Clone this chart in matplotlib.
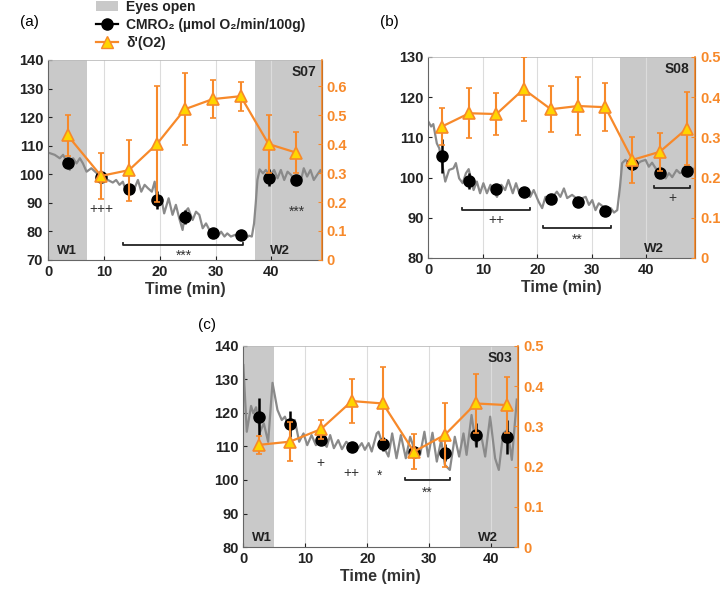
import numpy as np
import matplotlib
matplotlib.use('Agg')
import matplotlib.pyplot as plt
from matplotlib.patches import Patch
from matplotlib.lines import Line2D

plt.rcParams['font.family'] = ['Liberation Sans', 'DejaVu Sans']

ORANGE = '#f7892a'
YELLOW = '#ffd500'
GRAY = '#8a8a8a'
SHADE = '#c9c9c9'

# ---------------- panel (a) : S07 ----------------
a_time = [3.5, 9.5, 14.5, 19.5, 24.5, 29.5, 34.5, 39.5, 44.5]
a_cmro2 = [104.0, 99.2, 95.0, 91.0, 85.0, 79.5, 78.8, 98.8, 98.0]
a_cmro2_err = [1.5, 1.5, 1.5, 3.0, 2.5, 1.0, 1.0, 3.0, 1.5]
a_delta = [0.43, 0.29, 0.31, 0.40, 0.52, 0.555, 0.565, 0.40, 0.37]
a_delta_err = [0.07, 0.08, 0.105, 0.20, 0.125, 0.065, 0.05, 0.10, 0.07]
a_trace_t = [0.0, 1.2, 2.1, 2.7, 3.3, 3.9, 4.5, 5.1, 5.7, 6.25, 6.9, 7.75, 8.6, 9.5,
             10.7, 11.6, 12.2, 12.8, 13.4, 14.0, 14.7, 15.5, 16.1, 16.7, 17.3, 17.9,
             18.6, 19.1, 19.6, 20.25, 20.8, 21.6, 22.3, 22.9, 23.5, 24.1, 24.6, 25.1,
             25.9, 26.5, 27.1, 27.7, 28.3, 28.9, 29.6, 30.4, 31.0, 31.6, 32.1, 32.75,
             33.5, 34.3, 35.4, 36.0, 36.5, 36.9, 37.2, 37.5, 37.9, 38.5, 39.0, 39.7,
             40.5, 41.1, 41.7, 42.3, 42.9, 43.5, 44.4, 45.25, 45.8, 46.4, 47.0, 47.6,
             48.2, 48.8, 49.0]
a_trace_v = [107.6, 106.8, 105.6, 106.8, 104.5, 101.5, 105.6, 103.8, 105.6, 103.8, 100.9,
             102.1, 100.6, 99.5, 98.0, 97.1, 98.0, 96.3, 97.4, 93.9, 96.0, 95.1, 98.0,
             93.9, 96.3, 95.1, 93.9, 97.4, 89.8, 92.2, 86.3, 91.6, 85.8, 89.3, 84.6,
             80.5, 87.0, 88.1, 84.0, 86.9, 85.8, 81.1, 82.8, 80.5, 79.5, 78.2, 79.9,
             78.2, 79.3, 78.2, 78.8, 78.4, 77.6, 78.5, 78.2, 82.8, 89.8, 98.0, 101.7,
             100.3, 101.5, 99.5, 101.5, 98.6, 101.5, 98.0, 100.9, 99.8, 97.5, 97.4,
             102.1, 99.2, 101.5, 98.0, 99.8, 101.5, 100.5]

# ---------------- panel (b) : S08 ----------------
b_time = [2.5, 7.5, 12.5, 17.5, 22.5, 27.5, 32.5, 37.5, 42.5, 47.5]
b_cmro2 = [105.4, 99.2, 97.1, 96.3, 94.7, 94.0, 91.7, 103.3, 101.1, 101.6]
b_cmro2_err = [4.2, 2.0, 1.0, 0.8, 1.0, 0.8, 0.6, 1.5, 1.0, 0.8]
b_delta = [0.327, 0.36, 0.358, 0.42, 0.37, 0.378, 0.375, 0.244, 0.264, 0.322]
b_delta_err = [0.045, 0.062, 0.053, 0.08, 0.057, 0.072, 0.06, 0.057, 0.047, 0.09]
b_trace_t = [0.0, 0.5, 0.9, 1.55, 2.0, 3.1, 3.8, 4.6, 5.05, 5.65, 6.3, 6.9, 7.4, 8.3,
             8.9, 9.5, 10.1, 10.75, 11.4, 12.6, 13.4, 14.1, 14.7, 15.5, 16.1, 16.7,
             17.4, 18.1, 18.7, 19.35, 20.25, 20.9, 21.5, 22.5, 23.6, 24.25, 24.9, 25.5,
             26.4, 27.5, 28.9, 29.5, 30.1, 30.7, 31.3, 32.4, 33.5, 34.1, 34.7, 35.2,
             35.6, 36.2, 37.1, 38.0, 39.0, 39.9, 40.5, 41.1, 41.75, 42.6, 43.6, 44.2,
             44.8, 45.6, 46.2, 47.3, 48.5, 49.1]
b_trace_v = [113.9, 112.7, 113.3, 108.5, 107.3, 99.0, 101.9, 102.3, 103.6, 99.8, 98.6,
             101.1, 102.1, 96.9, 99.0, 96.1, 98.6, 96.1, 98.2, 95.2, 98.2, 96.9, 99.4,
             96.1, 98.6, 96.1, 97.0, 96.9, 95.2, 96.9, 94.0, 92.4, 95.2, 94.5, 96.5,
             95.2, 97.3, 94.9, 95.7, 94.5, 95.2, 93.2, 94.4, 91.9, 93.6, 92.5, 92.4,
             91.3, 91.9, 97.7, 103.6, 104.4, 103.4, 103.0, 104.0, 104.4, 102.7, 103.7,
             102.3, 101.5, 99.8, 101.1, 100.1, 101.9, 101.1, 101.5, 102.1, 102.3]

# ---------------- panel (c) : S03 ----------------
c_time = [2.5, 7.5, 12.5, 17.5, 22.5, 27.5, 32.5, 37.5, 42.5]
c_cmro2 = [118.9, 116.7, 111.9, 109.9, 110.7, 108.3, 108.2, 113.4, 112.9]
c_cmro2_err = [5.5, 4.0, 1.0, 0.8, 2.0, 1.0, 2.5, 3.5, 5.0]
c_delta = [0.254, 0.262, 0.293, 0.363, 0.357, 0.237, 0.279, 0.357, 0.353]
c_delta_err = [0.023, 0.048, 0.024, 0.055, 0.09, 0.043, 0.08, 0.074, 0.07]
c_trace_t = [0.0, 0.55, 1.24, 1.6, 2.05, 2.7, 3.3, 4.0, 4.7, 5.5, 6.2, 6.7, 7.5, 8.3,
             9.0, 9.7, 10.3, 11.0, 11.7, 12.4, 13.45, 14.0, 14.6, 15.3, 15.9, 16.6,
             17.4, 18.5, 19.1, 19.6, 20.2, 20.7, 21.5, 21.8, 22.5, 23.4, 24.0, 24.7,
             25.4, 26.2, 26.9, 27.7, 28.5, 29.2, 29.8, 30.5, 31.2, 31.9, 32.5, 33.3,
             34.1, 34.8, 35.5, 36.0, 36.8, 37.5, 38.3, 39.0, 39.8, 40.6, 41.2, 41.9,
             42.6, 43.3, 44.1]
c_trace_v = [134.3, 114.4, 122.1, 119.9, 121.7, 114.4, 116.9, 111.4, 129.0, 120.9, 117.9,
             118.9, 114.9, 117.9, 111.4, 113.9, 110.4, 113.4, 110.4, 112.0, 109.9, 113.4,
             109.5, 111.9, 109.2, 111.4, 110.0, 109.5, 111.0, 109.0, 111.0, 108.5, 113.9,
             114.4, 110.5, 107.0, 113.9, 106.5, 113.4, 106.5, 112.9, 108.5, 107.5, 114.4,
             107.0, 114.1, 105.5, 111.9, 104.5, 103.0, 112.9, 107.0, 113.9, 107.5, 119.4,
             110.4, 113.9, 107.0, 118.9, 106.5, 103.0, 113.9, 115.0, 106.0, 124.0]

# significance brackets: (start, end, level, label, label level)
a_brackets = [(13.5, 35.0, 75.2, '***', 71.6)]
b_brackets = [(6.2, 18.6, 91.9, '++', 89.5), (21.0, 33.6, 87.4, '**', 84.6),
              (41.5, 48.0, 97.3, '+', 94.8)]
c_brackets = [(26.0, 33.3, 100.0, '**', 96.3)]
# loose marks: (x, y, label)
a_marks = [(9.5, 88.0, '+++'), (44.5, 86.8, '***')]
b_marks = []
c_marks = [(12.5, 105.0, '+'), (17.5, 102.0, '++'), (22.0, 101.3, '*')]


def draw_panel(pos, t, cm, cm_err, dl, dl_err, tr_t, tr_v, xmax, ylim, yticks, y2lim, y2ticks,
               eyes, windows, subject, brackets, marks):
    ax = fig.add_axes(pos)
    for s, e in eyes:
        ax.axvspan(s, e, color=SHADE, lw=0, zorder=0)
    for g in [10, 20, 30, 40]:
        ax.axvline(g, color='#dcdcdc', lw=0.8, zorder=0.5)
    ax.plot(tr_t, tr_v, color=GRAY, lw=1.6, zorder=2)
    ax.errorbar(t, cm, yerr=cm_err, fmt='o', color='black', ms=8, elinewidth=1.8,
                capsize=0, zorder=3)
    ax.set_xlim(0, xmax)
    ax.set_ylim(*ylim)
    ax.set_yticks(yticks)
    ax.set_xticks([0, 10, 20, 30, 40])
    ax.tick_params(direction='in', length=3, labelsize=10.5, colors='#222222')
    for lab in ax.get_xticklabels() + ax.get_yticklabels():
        lab.set_fontweight('bold')
    ax.set_xlabel('Time (min)', fontsize=11.5, fontweight='bold', labelpad=2, color='#333333')
    for sp in ['left', 'bottom']:
        ax.spines[sp].set_color('#666666')
    ax.spines['top'].set_color('#bbbbbb')
    ax.spines['top'].set_linewidth(0.6)

    for x, label in windows:
        ax.text(x, ylim[0] + 0.045 * (ylim[1] - ylim[0]), label, ha='center', va='center',
                fontsize=9.5, fontweight='bold', color='#222222')
    ax.text(xmax - 1.0, ylim[1] - 0.06 * (ylim[1] - ylim[0]), subject, ha='right',
            va='center', fontsize=10, fontweight='bold', color='#222222')
    h = 0.012 * (ylim[1] - ylim[0])
    for s, e, lev, lab, lab_y in brackets:
        ax.plot([s, s, e, e], [lev + h, lev, lev, lev + h], color='#222222', lw=1.3, zorder=4)
        ax.text((s + e) / 2, lab_y, lab, ha='center', va='center', fontsize=10, color='#333333')
    for x, y, lab in marks:
        ax.text(x, y, lab, ha='center', va='center', fontsize=10, color='#333333')

    ax2 = ax.twinx()
    ax2.errorbar(t, dl, yerr=dl_err, fmt='-^', color=ORANGE, mfc=YELLOW, mec=ORANGE, mew=1.2,
                 ms=9, lw=1.6, elinewidth=1.5, capsize=2.5, capthick=1.2, zorder=5)
    ax2.set_ylim(*y2lim)
    ax2.set_yticks(y2ticks)
    ax2.set_yticklabels(['0' if v == 0 else '%.1f' % v for v in y2ticks])
    ax2.tick_params(direction='in', length=3, labelsize=10.5, colors=ORANGE)
    for lab in ax2.get_yticklabels():
        lab.set_fontweight('bold')
    ax2.spines['right'].set_color(ORANGE)
    ax2.spines['right'].set_linewidth(1.2)
    for sp in ['left', 'top', 'bottom']:
        ax2.spines[sp].set_visible(False)
    return ax, ax2


fig = plt.figure(figsize=(7.2, 5.89), dpi=100)

draw_panel([0.0667, 0.5586, 0.380, 0.3396], a_time, a_cmro2, a_cmro2_err, a_delta, a_delta_err,
           a_trace_t, a_trace_v, 49, (70, 140), range(70, 141, 10), (0, 0.69),
           [0, 0.1, 0.2, 0.3, 0.4, 0.5, 0.6], [(0, 7), (37, 49)], [(3.3, 'W1'), (41.5, 'W2')],
           'S07', a_brackets, a_marks)

draw_panel([0.595, 0.562, 0.3704, 0.3413], b_time, b_cmro2, b_cmro2_err, b_delta, b_delta_err,
           b_trace_t, b_trace_v, 49, (80, 130), range(80, 131, 10), (0, 0.5),
           [0, 0.1, 0.2, 0.3, 0.4, 0.5], [(35.2, 49)], [(41.5, 'W2')],
           'S08', b_brackets, b_marks)

draw_panel([0.338, 0.0713, 0.3815, 0.3413], c_time, c_cmro2, c_cmro2_err, c_delta, c_delta_err,
           c_trace_t, c_trace_v, 44.3, (80, 140), range(80, 141, 10), (0, 0.5),
           [0, 0.1, 0.2, 0.3, 0.4, 0.5], [(0, 5), (35, 44.3)], [(3.0, 'W1'), (39.5, 'W2')],
           'S03', c_brackets, c_marks)

fig.text(0.028, 0.962, '(a)', fontsize=11, va='center')
fig.text(0.528, 0.962, '(b)', fontsize=11, va='center')
fig.text(0.275, 0.448, '(c)', fontsize=11, va='center')

handles = [Patch(facecolor=SHADE, edgecolor='none'),
           Line2D([], [], color='black', marker='o', ms=8, lw=1.6),
           Line2D([], [], color=ORANGE, marker='^', mfc=YELLOW, mec=ORANGE, ms=9, lw=1.6)]
labels = ['Eyes open', 'CMRO\u2082 (\u00b5mol O\u2082/min/100g)', "\u03b4'(O2)"]
leg = fig.legend(handles, labels, loc='upper left', bbox_to_anchor=(0.125, 1.01),
                 frameon=False, fontsize=10, handlelength=1.6, labelspacing=0.3,
                 handletextpad=0.6, borderaxespad=0)
for txt in leg.get_texts():
    txt.set_fontweight('bold')
    txt.set_color('#222222')

fig.savefig('out.png', dpi=100)
